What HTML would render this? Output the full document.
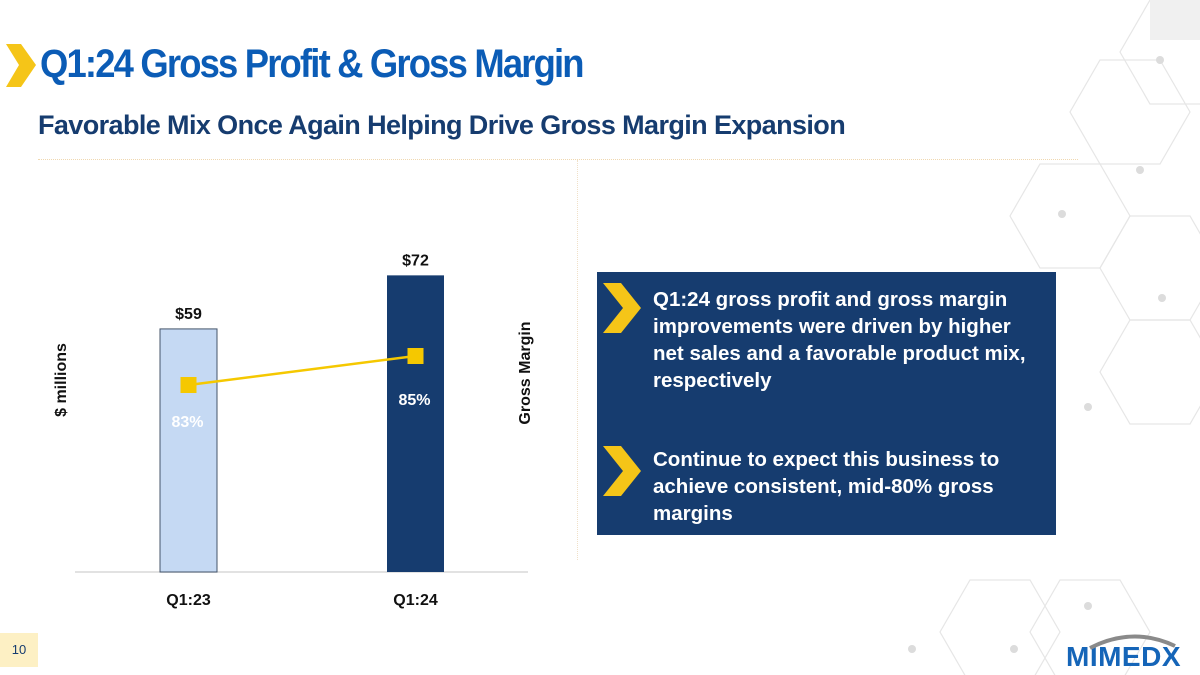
<!DOCTYPE html>
<html><head><meta charset="utf-8">
<style>
body{margin:0;width:1200px;height:675px;background:#fff;font-family:"Liberation Sans",sans-serif;position:relative;overflow:hidden}
.abs{position:absolute}
</style></head><body>
<svg class="abs" style="left:0;top:0" width="1200" height="675">
<g stroke="#e6e6e6" stroke-width="1.2" fill="none">
<polygon points="1100,60 1160,60 1190,112 1160,164 1100,164 1070,112"/>
<polygon points="1040,164 1100,164 1130,216 1100,268 1040,268 1010,216"/>
<polygon points="1130,216 1190,216 1220,268 1190,320 1130,320 1100,268"/>
<polygon points="1130,320 1190,320 1220,372 1190,424 1130,424 1100,372"/>
<polygon points="970,580 1030,580 1060,632 1030,684 970,684 940,632"/>
<polygon points="1060,580 1120,580 1150,632 1120,684 1060,684 1030,632"/>
<polygon points="1150,0 1210,0 1240,52 1210,104 1150,104 1120,52"/>
</g>
<g fill="#dcdcdc"><circle cx="1160" cy="60" r="4"/><circle cx="1140" cy="170" r="4"/><circle cx="1062" cy="214" r="4"/><circle cx="1162" cy="298" r="4"/><circle cx="1088" cy="407" r="4"/><circle cx="912" cy="649" r="4"/><circle cx="1014" cy="649" r="4"/><circle cx="1088" cy="606" r="4"/></g>
<rect x="1150" y="0" width="50" height="40" fill="#f0f0f0"/>
</svg>
<svg class="abs" style="left:6px;top:44px" width="30" height="44"><polygon points="0,0 15,0 30,21 15,43 0,43 13,21" fill="#f5c518"/></svg>
<div class="abs" style="left:40px;top:42px;font-size:40px;font-weight:bold;color:#0b5cb6;letter-spacing:-2px;transform:scaleX(0.91);transform-origin:0 0;white-space:nowrap">Q1:24 Gross Profit &amp; Gross Margin</div>
<div class="abs" style="left:38px;top:110px;font-size:27px;font-weight:bold;color:#163c6f;letter-spacing:-0.6px">Favorable Mix Once Again Helping Drive Gross Margin Expansion</div>
<div class="abs" style="left:38px;top:159px;width:1040px;border-top:1px dotted #f0d8b0"></div>
<div class="abs" style="left:577px;top:160px;height:400px;border-left:1px dotted #f0e0c8"></div>

<svg class="abs" id="chart" style="left:0;top:0" width="600" height="675"></svg>

<div class="abs" style="left:597px;top:272px;width:459px;height:263px;background:#163c6f"></div>
<svg class="abs" style="left:603px;top:283px" width="40" height="50"><polygon points="0,0 18,0 38,25 18,50 0,50 20,25" fill="#f5c518"/></svg>
<div class="abs" style="left:653px;top:286px;width:390px;font-size:20.5px;font-weight:bold;color:#fff;line-height:27px">Q1:24 gross profit and gross margin improvements were driven by higher net sales and a favorable product mix, respectively</div>
<svg class="abs" style="left:603px;top:446px" width="40" height="50"><polygon points="0,0 18,0 38,25 18,50 0,50 20,25" fill="#f5c518"/></svg>
<div class="abs" style="left:653px;top:446px;width:390px;font-size:20.5px;font-weight:bold;color:#fff;line-height:27px">Continue to expect this business to achieve consistent, mid-80% gross margins</div>

<div class="abs" style="left:0;top:633px;width:38px;height:34px;background:#fdf0c4;color:#163c6f;font-size:13px;text-align:center;line-height:34px">10</div>
<div class="abs" style="left:1066px;top:641px;font-size:28px;font-weight:bold;color:#1565b8;letter-spacing:0.5px">MIMEDX</div>
<svg class="abs" style="left:1085px;top:630px" width="95" height="20"><path d="M5,18 Q48,-4 90,16" stroke="#8a8a8a" stroke-width="4" fill="none"/></svg>

<script>
const categories=["Q1:23","Q1:24"];
const profitValues=[59,72];
const profitLabels=["$59","$72"];
const marginValues=[83,85];
const marginLabels=["83%","85%"];
const svg=document.getElementById('chart');
const NS="http://www.w3.org/2000/svg";
const base=572, pxPer=4.12;
const yBar=v=>base-v*pxPer;
const yLine=v=>385-(v-83)*14.5;
const xC=i=>188.5+i*227;
const bw=57;
const fills=["#c5d9f3","#163c6f"];
const labColors=["#ffffff","#ffffff"];
function el(t,a,txt){const e=document.createElementNS(NS,t);for(const k in a)e.setAttribute(k,a[k]);if(txt!==undefined)e.textContent=txt;svg.appendChild(e);return e;}
let ax=el('line',{x1:75,y1:base,x2:528,y2:base,stroke:'#d9d9d9','stroke-width':1.5});


categories.forEach((c,i)=>{
 let r=el('rect',{x:xC(i)-bw/2,y:yBar(profitValues[i]),width:bw,height:profitValues[i]*pxPer,fill:fills[i],stroke:i==0?'#44546a':'none','stroke-width':1});
 
 
 let t=el('text',{x:xC(i),y:yBar(profitValues[i])-10,'text-anchor':'middle','font-size':16,'font-weight':'bold',fill:'#111'},profitLabels[i]);
 
 
 let x=el('text',{x:xC(i),y:605,'text-anchor':'middle','font-size':16,'font-weight':'bold',fill:'#111'},c);
 
 
});
let pts=marginValues.map((v,i)=>xC(i)+','+yLine(v)).join(' ');
let pl=el('polyline',{points:pts,fill:'none',stroke:'#f5c800','stroke-width':2.5});


marginValues.forEach((v,i)=>{
 let m=el('rect',{x:xC(i)-8,y:yLine(v)-8,width:16,height:16,fill:'#f5c800'});
 
 
 let l=el('text',{x:xC(i)-1,y:yLine(v)+(i==0?42:49),'text-anchor':'middle','font-size':16,'font-weight':'bold',fill:labColors[i]},marginLabels[i]);
 
 
});
let yl=el('text',{transform:'translate(66,380) rotate(-90)','text-anchor':'middle','font-size':16,'font-weight':'bold',fill:'#111'},'$ millions');


let yr=el('text',{transform:'translate(530,373) rotate(-90)','text-anchor':'middle','font-size':16,'font-weight':'bold',fill:'#111'},'Gross Margin');


</script>
</body></html>
